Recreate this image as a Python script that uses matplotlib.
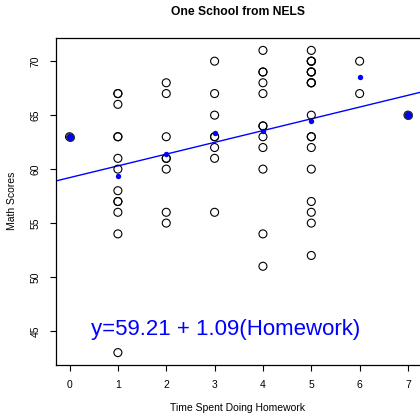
import numpy as np
import matplotlib
matplotlib.use("Agg")
import matplotlib.pyplot as plt

plt.rcParams['font.family'] = ['Liberation Sans', 'DejaVu Sans']

# homework hours and math scores, one group per hour value
hours = [0, 1, 2, 3, 4, 5, 6, 7]
scores = [
    [63],
    [67, 67, 66, 63, 63, 61, 60, 58, 57, 57, 56, 54, 43],
    [68, 67, 63, 61, 61, 60, 56, 55],
    [70, 67, 65, 63, 63, 62, 61, 56],
    [71, 69, 69, 68, 67, 64, 64, 63, 62, 60, 54, 51],
    [71, 70, 70, 70, 69, 69, 69, 68, 68, 68, 65, 63, 63, 62, 60, 57, 56, 55, 52],
    [70, 67],
    [65],
]
intercept = 59.21
slope = 1.09
xticks = [0, 1, 2, 3, 4, 5, 6, 7]
yticks = [45, 50, 55, 60, 65, 70]

x = np.concatenate([[h] * len(s) for h, s in zip(hours, scores)])
y = np.concatenate(scores)
means = [np.mean(s) for s in scores]
counts = [len(s) for s in scores]

fig = plt.figure(figsize=(4.2, 4.15), dpi=100)
ax = fig.add_axes([56 / 420, 50.3 / 415, 366.5 / 420, 326.4 / 415])

ax.scatter(x, y, s=33, facecolors="none", edgecolors="black", linewidths=0.8, zorder=3)
# groups with a single pupil: point is covered by its mean
single = [i for i, c in enumerate(counts) if c == 1]
ax.scatter([hours[i] for i in single], [means[i] for i in single], s=33,
           color="blue", edgecolors="#333333", linewidths=0.8, zorder=4)
ax.scatter(hours, means, s=15, color="blue", linewidths=0, zorder=4)

xl = np.array([-0.28, 7.3])
ax.plot(xl, intercept + slope * xl, color="blue", lw=1.0, zorder=2)

ax.text(3.23, 45.1, "y=%.2f + %.2f(Homework)" % (intercept, slope),
        color="blue", fontsize=16, ha="center", va="center")

ax.set_xlim(-0.28, 7.3)
ax.set_ylim(41.88, 72.12)
ax.set_xticks(xticks)
ax.set_yticks(yticks)
ax.tick_params(direction="out", length=4.5, width=0.8, labelsize=7.5, pad=6.5)
ax.tick_params(axis="y", labelrotation=90)
for lab in ax.get_yticklabels():
    lab.set_va("center")
for sp in ax.spines.values():
    sp.set_linewidth(0.9)

fig.text(238 / 420, 1 - 12 / 415, "One School from NELS", fontsize=8.7,
         fontweight="bold", ha="center", va="center")
fig.text(238 / 420, 7 / 415, "Time Spent Doing Homework", fontsize=7.5,
         ha="center", va="center")
fig.text(12 / 420, 1 - 201 / 415, "Math Scores", fontsize=7.5,
         ha="center", va="center", rotation=90)

fig.savefig("out.png", dpi=100)
